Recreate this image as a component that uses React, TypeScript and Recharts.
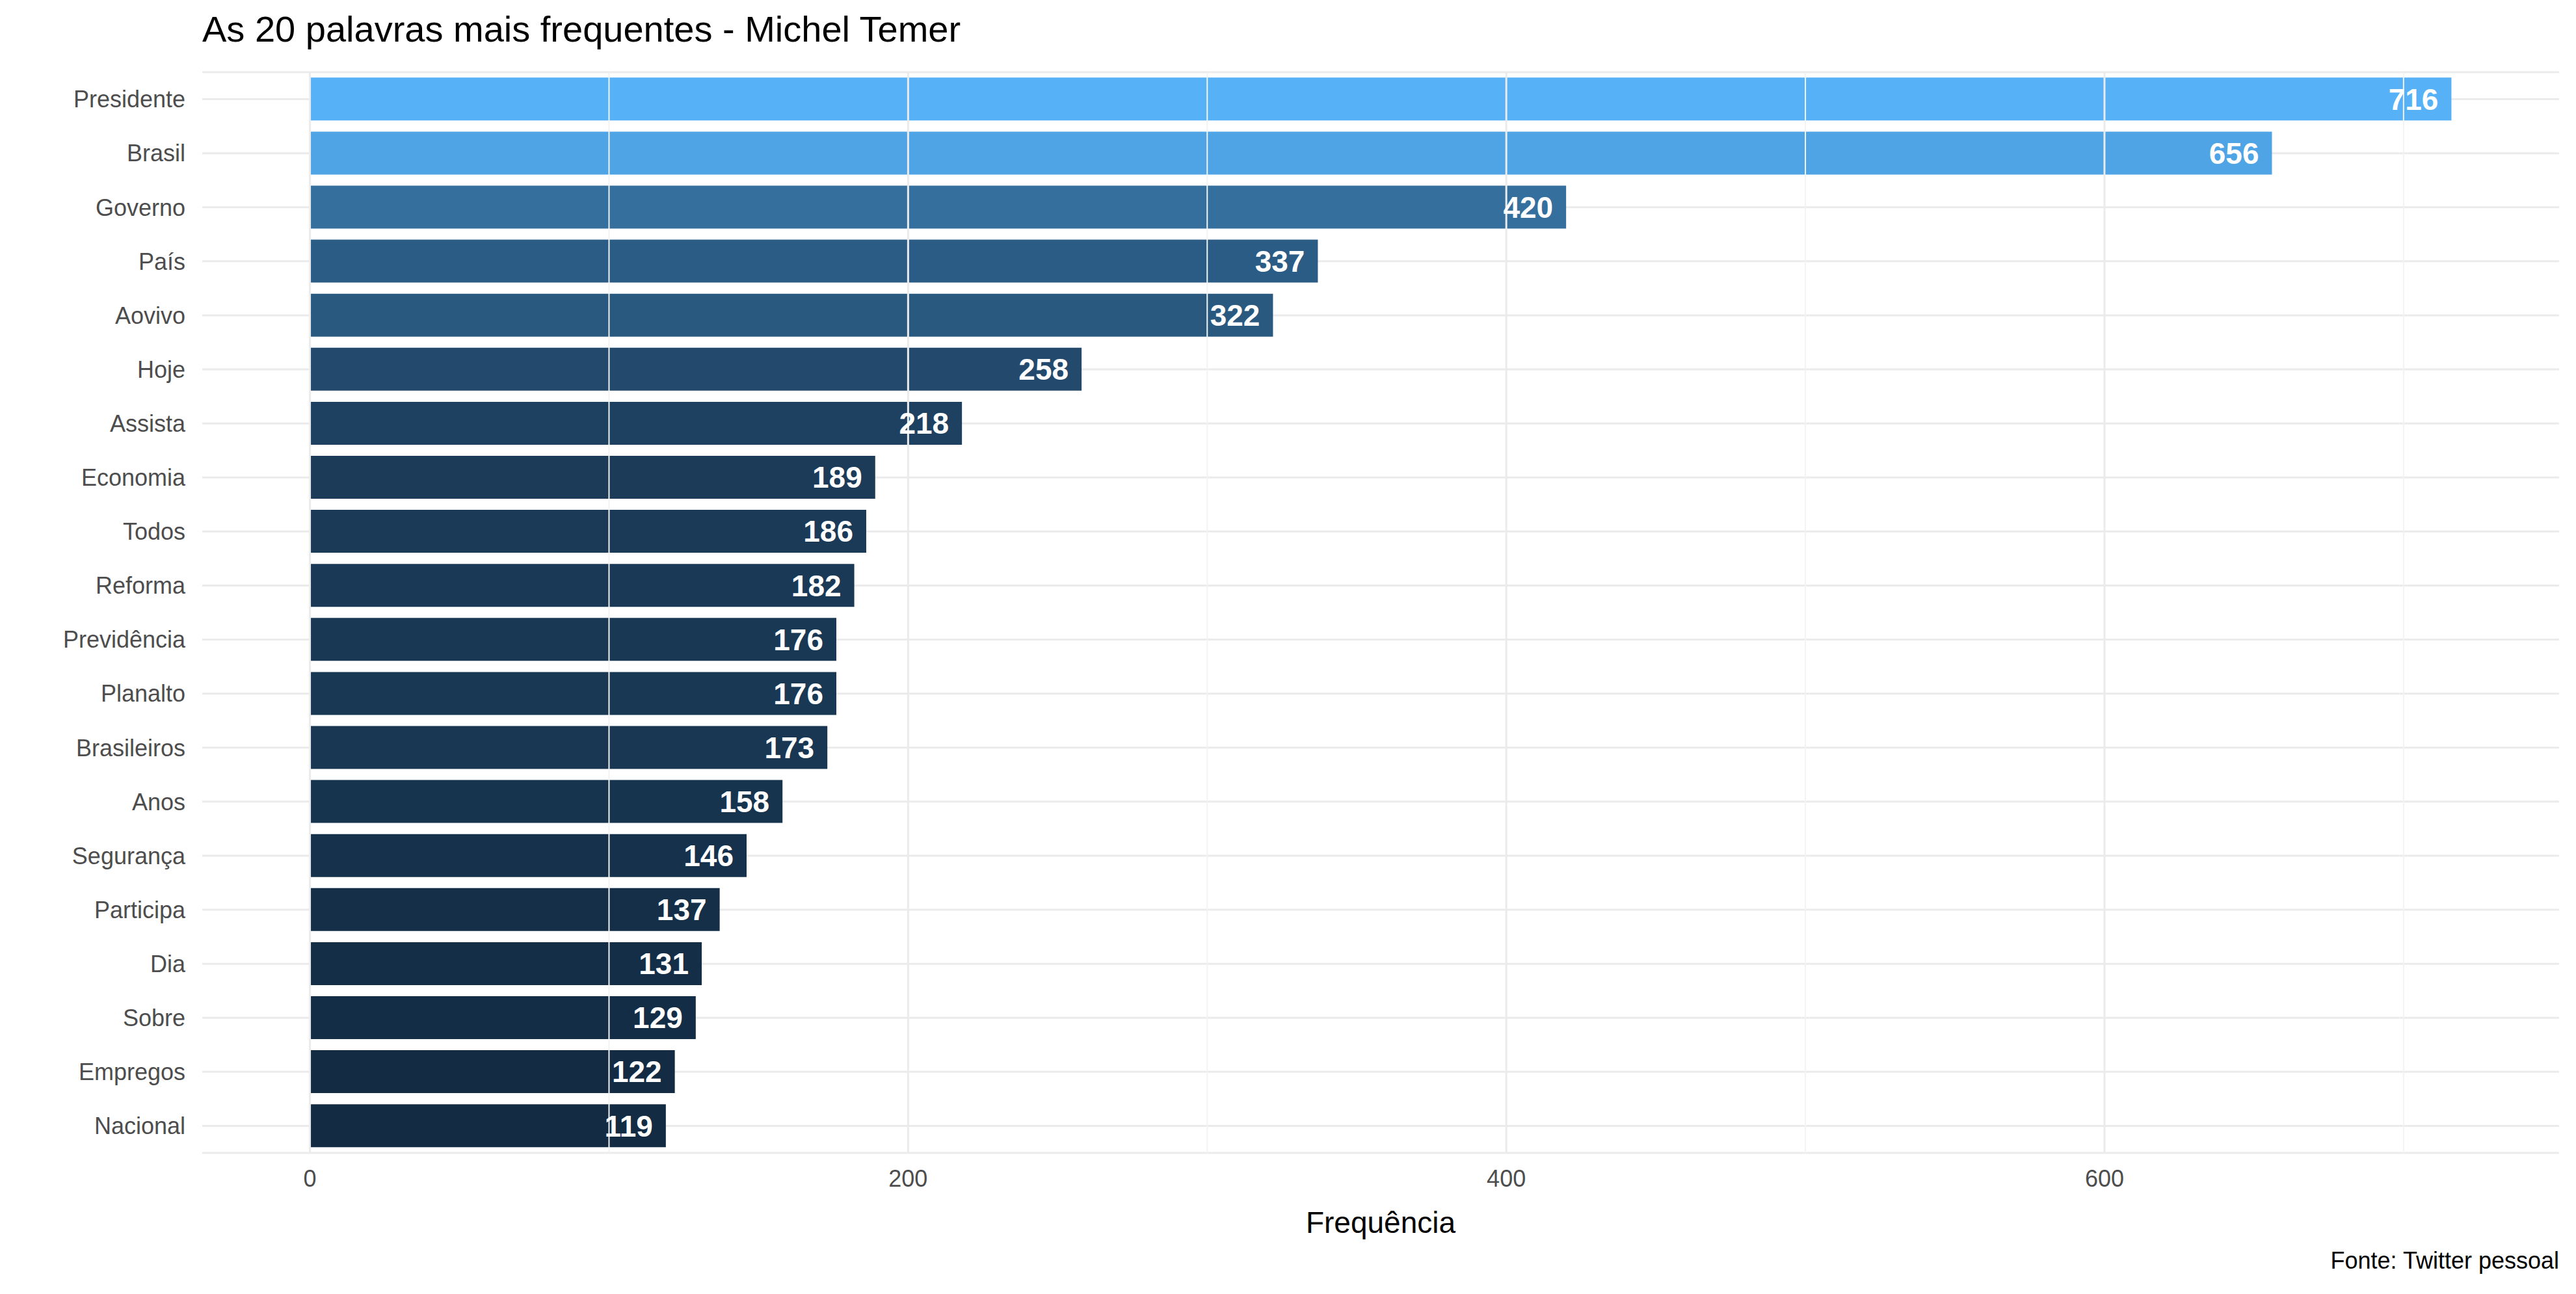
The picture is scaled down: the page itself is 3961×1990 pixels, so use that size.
import { Bar, BarChart, CartesianGrid, Cell, LabelList, ReferenceLine, XAxis, YAxis } from 'recharts';

const words = [
  'Presidente', 'Brasil', 'Governo', 'País', 'Aovivo', 'Hoje', 'Assista', 'Economia', 'Todos', 'Reforma',
  'Previdência', 'Planalto', 'Brasileiros', 'Anos', 'Segurança', 'Participa', 'Dia', 'Sobre', 'Empregos', 'Nacional',
];
const counts = [716, 656, 420, 337, 322, 258, 218, 189, 186, 182, 176, 176, 173, 158, 146, 137, 131, 129, 122, 119];
const majorTicks = [0, 200, 400, 600];
const minorTicks = [100, 300, 500, 700];

const FONT = '"Liberation Sans", Arial, sans-serif';
const lo = [0x13, 0x2b, 0x43];
const hi = [0x56, 0xb1, 0xf7];
const minC = Math.min(...counts);
const maxC = Math.max(...counts);

function fillFor(v: number) {
  const t = (v - minC) / (maxC - minC);
  const c = lo.map((a, i) => Math.round(a + (hi[i] - a) * t));
  return `rgb(${c[0]},${c[1]},${c[2]})`;
}

const data = words.map((w, i) => ({ word: w, n: counts[i] }));

export default function App() {
  return (
    <div style={{ position: 'absolute', left: 0, top: 0, width: 3961, height: 1990, background: '#fff', fontFamily: FONT }}>
      <div style={{ position: 'absolute', left: 311, top: 12, fontSize: 56, color: '#000' }}>
        As 20 palavras mais frequentes - Michel Temer
      </div>
      <BarChart
        width={3961}
        height={1990}
        data={data}
        layout="vertical"
        margin={{ top: 111, right: 26, bottom: 0, left: 0 }}
        barCategoryGap="10%"
      >
        <CartesianGrid horizontal vertical={false} stroke="#ebebeb" strokeWidth={3} />
        {minorTicks.map((t) => (
          <ReferenceLine key={t} x={t} stroke="#f3f3f3" strokeWidth={2} />
        ))}
        {majorTicks.map((t) => (
          <ReferenceLine key={t} x={t} stroke="#ebebeb" strokeWidth={3} />
        ))}
        <XAxis
          type="number"
          dataKey="n"
          domain={[-36, 752]}
          allowDataOverflow
          ticks={majorTicks}
          height={217}
          tickLine={false}
          axisLine={false}
          tickMargin={20}
          tick={{ fontSize: 36, fill: '#4d4d4d', fontFamily: FONT }}
          label={{ value: 'Frequência', position: 'insideTop', offset: 90, fontSize: 46, fill: '#000', fontFamily: FONT }}
        />
        <YAxis
          type="category"
          dataKey="word"
          width={311}
          tickLine={false}
          axisLine={false}
          tickMargin={20}
          interval={0}
          tick={{ fontSize: 36, fill: '#4d4d4d', fontFamily: FONT }}
        />
        <Bar dataKey="n" isAnimationActive={false}>
          {data.map((d) => (
            <Cell key={d.word} fill={fillFor(d.n)} />
          ))}
          <LabelList
            dataKey="n"
            position="insideRight"
            offset={20}
            style={{ fill: '#fff', fontSize: 46, fontWeight: 'bold', fontFamily: FONT }}
          />
        </Bar>
      </BarChart>
      <div style={{ position: 'absolute', right: 26, top: 1918, fontSize: 36, color: '#000' }}>
        Fonte: Twitter pessoal
      </div>
    </div>
  );
}
